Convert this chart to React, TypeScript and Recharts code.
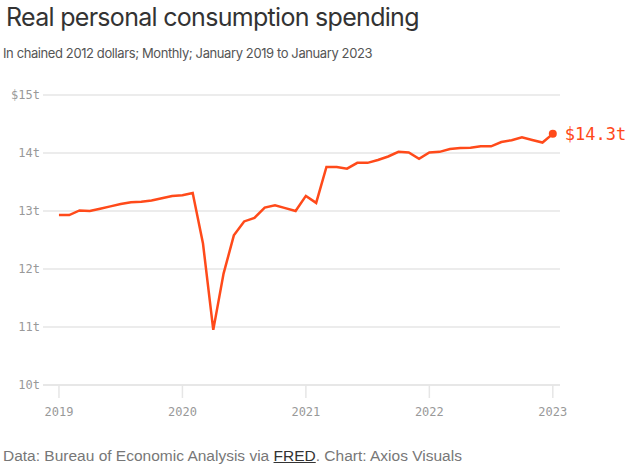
import React from 'react';
import { LineChart, Line, XAxis, YAxis, CartesianGrid } from 'recharts';

const months: string[] = [
  '2019-01','2019-02','2019-03','2019-04','2019-05','2019-06','2019-07','2019-08','2019-09','2019-10','2019-11','2019-12',
  '2020-01','2020-02','2020-03','2020-04','2020-05','2020-06','2020-07','2020-08','2020-09','2020-10','2020-11','2020-12',
  '2021-01','2021-02','2021-03','2021-04','2021-05','2021-06','2021-07','2021-08','2021-09','2021-10','2021-11','2021-12',
  '2022-01','2022-02','2022-03','2022-04','2022-05','2022-06','2022-07','2022-08','2022-09','2022-10','2022-11','2022-12',
  '2023-01',
];

const spending: number[] = [
  12.93, 12.93, 13.01, 13.0, 13.04, 13.08, 13.12, 13.15, 13.16, 13.18, 13.22, 13.26,
  13.27, 13.31, 12.44, 10.95, 11.92, 12.58, 12.82, 12.88, 13.06, 13.1, 13.05, 13.0,
  13.26, 13.14, 13.76, 13.76, 13.73, 13.83, 13.83, 13.88, 13.94, 14.02, 14.01, 13.9,
  14.01, 14.02, 14.07, 14.085, 14.09, 14.115, 14.115, 14.19, 14.22, 14.27, 14.225, 14.18,
  14.33,
];

const yTicks: number[] = [10, 11, 12, 13, 14, 15];
const xTicks: number[] = [0, 12, 24, 36, 48];
const xTickLabels: string[] = ['2019', '2020', '2021', '2022', '2023'];
const lastLabel = '$14.3t';

const data = months.map((m, i) => ({ month: m, idx: i, value: spending[i] }));

const ORANGE = '#ff4a1a';
const MONO = '"DejaVu Sans Mono", "Liberation Mono", monospace';

const EndDot = (props: any) => {
  const { cx, cy, index } = props;
  if (index !== data.length - 1) return <g key={`d${index}`} />;
  return (
    <g key={`d${index}`}>
      <circle cx={cx} cy={cy} r={4} fill={ORANGE} />
      <text x={cx + 12} y={cy} dominantBaseline="central" fill={ORANGE} fontFamily={MONO} fontSize={17}>
        {lastLabel}
      </text>
    </g>
  );
};

export default function App() {
  return (
    <div style={{ position: 'absolute', left: 0, top: 0, width: 630, height: 467, background: '#fff', overflow: 'hidden' }}>
      <div style={{ position: 'absolute', left: 6, top: 0, fontFamily: 'Inter, "Noto Sans", sans-serif', fontSize: 25, color: '#333', letterSpacing: -0.7, lineHeight: '34px', whiteSpace: 'nowrap' }}>
        Real personal consumption spending
      </div>
      <div style={{ position: 'absolute', left: 3, top: 44, fontFamily: 'Inter, "Noto Sans", sans-serif', fontSize: 13, color: '#555', letterSpacing: -0.4, lineHeight: '18px', whiteSpace: 'nowrap' }}>
        In chained 2012 dollars; Monthly; January 2019 to January 2023
      </div>
      <div style={{ position: 'absolute', left: 0, top: 0 }}>
        <LineChart width={630} height={467} data={data} margin={{ top: 95, right: 70, bottom: 52, left: 0 }}>
          <CartesianGrid vertical={false} stroke="#e6e6e6" strokeWidth={1.5} />
          <XAxis
            dataKey="idx"
            type="number"
            domain={[-1.55, 48.7]}
            ticks={xTicks}
            tickFormatter={(v: number) => xTickLabels[xTicks.indexOf(v)]}
            axisLine={{ stroke: '#e6e6e6', strokeWidth: 1.5 }}
            tickLine={{ stroke: '#e6e6e6', strokeWidth: 1.5 }}
            tickSize={13}
            tickMargin={9}
            height={30}
            tick={{ fill: '#999', fontFamily: MONO, fontSize: 12 }}
          />
          <YAxis
            type="number"
            domain={[10, 15]}
            ticks={yTicks}
            width={43}
            axisLine={false}
            tickLine={false}
            tickSize={0}
            tickMargin={3}
            tickFormatter={(v: number) => (v === 15 ? `$${v}t` : `${v}t`)}
            tick={{ fill: '#999', fontFamily: MONO, fontSize: 12 }}
          />
          <Line
            type="linear"
            dataKey="value"
            stroke={ORANGE}
            strokeWidth={2.5}
            dot={EndDot}
            activeDot={false}
            isAnimationActive={false}
          />
        </LineChart>
      </div>
      <div style={{ position: 'absolute', left: 3, top: 446, fontFamily: '"Liberation Sans", Arial, sans-serif', fontSize: 15.5, color: '#777', lineHeight: '20px', whiteSpace: 'nowrap' }}>
        Data: Bureau of Economic Analysis via <span style={{ color: '#333', textDecoration: 'underline' }}>FRED</span>. Chart: Axios Visuals
      </div>
    </div>
  );
}
